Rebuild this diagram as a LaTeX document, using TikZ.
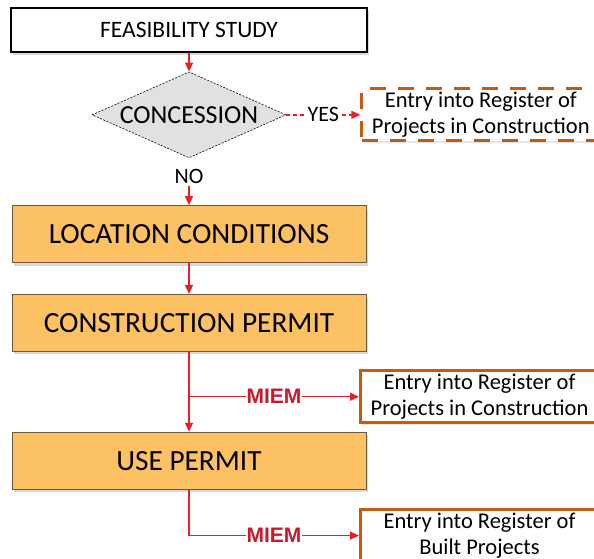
\documentclass[tikz,border=0pt]{standalone}
\usepackage{fontspec}
\setmainfont{Carlito}
\newfontfamily\miemfont{Liberation Sans}
\usepackage{tikz}
\usetikzlibrary{calc, shapes, shadows, arrows.meta, positioning}

\definecolor{stagefill}{RGB}{251,193,99}
\definecolor{stageline}{RGB}{105,90,65}
\definecolor{regline}{RGB}{197,90,17}
\definecolor{flowred}{RGB}{235,30,40}
\definecolor{miemred}{RGB}{200,25,45}
\definecolor{decfill}{RGB}{225,225,225}

\begin{document}
\begin{tikzpicture}[x=1pt, y=1pt,
          node distance=20pt,
          study/.style={rectangle, draw=black, line width=1.1pt, fill=white, minimum width=356pt, minimum height=44pt, inner sep=0pt, font=\fontsize{23.5}{27}\selectfont, drop shadow={shadow xshift=2pt, shadow yshift=-3pt, opacity=0.3}},
          stage/.style={rectangle, draw=stageline, line width=0.8pt, fill=stagefill, minimum width=354pt, minimum height=57pt, inner sep=0pt, font=\fontsize{29.3}{33}\selectfont, drop shadow={shadow xshift=2pt, shadow yshift=-3pt, opacity=0.3}},
          decision/.style={diamond, aspect=2.26, draw=black, dash pattern=on 2pt off 1.5pt, line width=0.6pt, fill=decfill, minimum width=194pt, minimum height=86pt, inner sep=0pt, font=\fontsize{26}{29}\selectfont},
          register/.style={rectangle, draw=regline, line width=3pt, fill=white, minimum width=238pt, minimum height=52pt, inner sep=0pt, align=center, font=\fontsize{22.5}{26.5}\selectfont, drop shadow={shadow xshift=1.5pt, shadow yshift=-2pt, opacity=0.2}},
          answer/.style={fill=white, inner sep=2pt, font=\fontsize{22}{25}\selectfont},
          miem/.style={fill=white, inner sep=1pt, text=miemred, font=\miemfont\bfseries\fontsize{21}{23}\selectfont},
          arrow/.style={->, >={Stealth[inset=0pt, length=9pt, width=8pt]}, draw=flowred, line width=1.4pt}
        ]
          \useasboundingbox (0,0) rectangle (594,-559);

          \node[study] (study) at (189,-30) {FEASIBILITY STUDY};
          \node[decision, below=19pt of study] (concession) {CONCESSION};
          \node[register, right=74pt of concession, dash pattern=on 16pt off 12pt] (entry1) {Entry into Register of\\Projects in Construction};
          \node[answer, below=9pt of concession] (no) {NO};
          \node[stage, below=47pt of concession] (location) {LOCATION CONDITIONS};
          \node[stage, below=31pt of location] (construction) {CONSTRUCTION PERMIT};
          \node[stage, below=80pt of construction] (use) {USE PERMIT};

          % branches to the registers
          \coordinate (miem1) at ($(construction.south)!0.5625!(use.north)$);
          \coordinate[below=46pt of use.south] (miem2);
          \node[register, right=170pt of miem1] (entry2) {Entry into Register of\\Projects in Construction};
          \node[register, right=170pt of miem2] (entry3) {Entry into Register of\\Built Projects};

          \draw[arrow] (study) -- (concession);
          \draw[arrow, dash pattern=on 4pt off 3pt] (concession) -- node[answer] {YES} (entry1);
          \draw[arrow] (no) -- (location);
          \draw[arrow] (location) -- (construction);
          \draw[arrow] (construction) -- (use);
          \draw[arrow] (miem1) -- node[miem] {MIEM} (entry2);
          \draw[arrow] (use) -- (miem2) -- node[miem] {MIEM} (entry3);
        \end{tikzpicture}
\end{document}
